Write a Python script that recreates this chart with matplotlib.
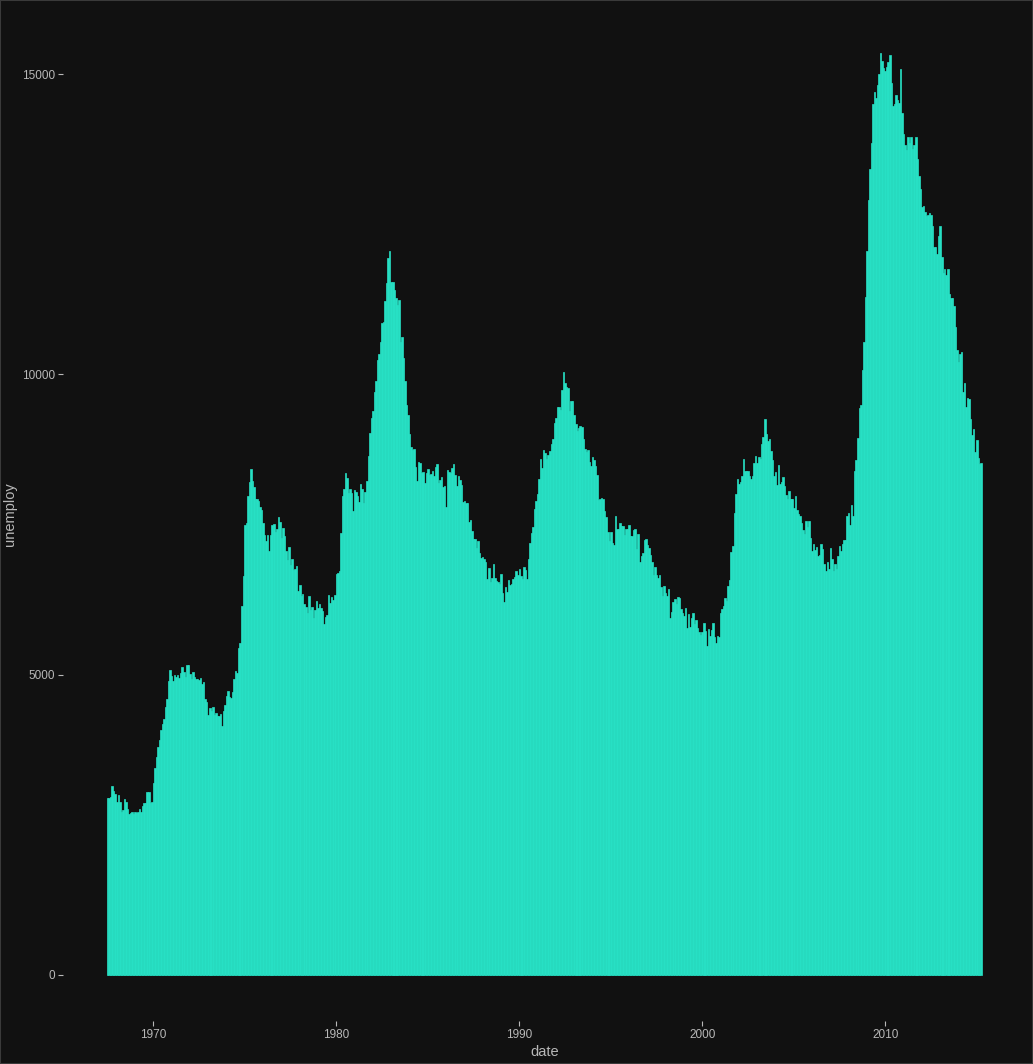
import pandas as pd
import matplotlib
matplotlib.use('Agg')
import matplotlib.pyplot as plt
import matplotlib.dates as mdates

plt.rcParams['font.family'] = ['Liberation Sans', 'DejaVu Sans']

# monthly unemployment (thousands), Jul 1967 - Apr 2015
unemploy = [
    2944, 2945, 2958, 3143, 3066, 3018,
    2878, 3001, 2877, 2709, 2740, 2938, 2883, 2768, 2686, 2689, 2715, 2685,
    2718, 2692, 2712, 2758, 2713, 2816, 2868, 2856, 3040, 3049, 2856, 2884,
    3201, 3453, 3635, 3797, 3919, 4071, 4175, 4256, 4456, 4591, 4898, 5076,
    4986, 4903, 4987, 4959, 4996, 4949, 5035, 5134, 5042, 4954, 5161, 5154,
    5019, 4928, 5038, 4959, 4922, 4923, 4913, 4939, 4849, 4875, 4602, 4543,
    4326, 4452, 4394, 4459, 4329, 4363, 4305, 4305, 4350, 4144, 4396, 4489,
    4644, 4731, 4634, 4618, 4705, 4927, 5063, 5022, 5437, 5523, 6140, 6636,
    7501, 7520, 7978, 8210, 8433, 8220, 8127, 7928, 7923, 7897, 7794, 7744,
    7534, 7326, 7230, 7330, 7053, 7322, 7490, 7518, 7380, 7430, 7620, 7545,
    7280, 7443, 7307, 7059, 6911, 7134, 6829, 6925, 6751, 6763, 6815, 6386,
    6489, 6318, 6337, 6180, 6127, 6028, 6309, 6080, 6125, 5947, 6077, 6228,
    6109, 6173, 6109, 6069, 5840, 5959, 5996, 6320, 6190, 6296, 6238, 6325,
    6683, 6702, 6729, 7358, 7984, 8098, 8363, 8281, 8021, 8088, 8023, 7718,
    8071, 8051, 7982, 7869, 8174, 8098, 7863, 8036, 8230, 8646, 9029, 9267,
    9397, 9705, 9895, 10244, 10335, 10538, 10849, 10881, 11217, 11529, 11938, 12051,
    11534, 11545, 11408, 11268, 11154, 11246, 10548, 10623, 10282, 9887, 9499, 9331,
    9008, 8791, 8746, 8762, 8456, 8226, 8537, 8519, 8367, 8381, 8198, 8358,
    8423, 8321, 8339, 8395, 8302, 8460, 8513, 8196, 8248, 8298, 8128, 8138,
    7795, 8402, 8383, 8364, 8439, 8508, 8319, 8135, 8310, 8243, 8159, 7883,
    7892, 7865, 7862, 7542, 7574, 7398, 7268, 7261, 7102, 7227, 7035, 6936,
    6953, 6929, 6876, 6601, 6779, 6546, 6605, 6843, 6604, 6568, 6537, 6518,
    6682, 6359, 6205, 6468, 6375, 6577, 6495, 6511, 6590, 6630, 6725, 6667,
    6752, 6651, 6598, 6797, 6742, 6590, 6922, 7188, 7368, 7459, 7764, 7901,
    8015, 8265, 8586, 8439, 8736, 8692, 8586, 8666, 8722, 8842, 8931, 9198,
    9283, 9454, 9460, 9415, 9744, 10040, 9850, 9787, 9781, 9398, 9565, 9557,
    9325, 9183, 9056, 9110, 9149, 9121, 8930, 8763, 8714, 8750, 8542, 8477,
    8630, 8583, 8470, 8331, 7915, 7927, 7946, 7933, 7734, 7632, 7375, 7230,
    7375, 7187, 7153, 7645, 7430, 7427, 7527, 7484, 7478, 7328, 7426, 7423,
    7491, 7313, 7318, 7415, 7423, 7095, 7337, 6882, 6979, 7031, 7236, 7253,
    7158, 7102, 7000, 6873, 6655, 6799, 6655, 6608, 6656, 6454, 6308, 6476,
    6368, 6306, 6422, 5941, 6047, 6212, 6259, 6179, 6300, 6280, 6100, 6032,
    5976, 6111, 5783, 6004, 5796, 5951, 6025, 5838, 5915, 5778, 5716, 5653,
    5708, 5858, 5733, 5481, 5758, 5651, 5747, 5853, 5625, 5534, 5639, 5634,
    6023, 6089, 6141, 6271, 6226, 6484, 6583, 7042, 7142, 7694, 8003, 8258,
    8182, 8215, 8304, 8599, 8399, 8393, 8390, 8304, 8251, 8307, 8520, 8640,
    8520, 8618, 8588, 8842, 8957, 9266, 9011, 8896, 8921, 8732, 8576, 8317,
    8370, 8167, 8491, 8170, 8212, 8286, 8136, 7990, 7927, 8061, 7932, 7934,
    7784, 7980, 7737, 7672, 7651, 7524, 7406, 7345, 7553, 7453, 7566, 7279,
    7064, 7184, 7072, 7120, 6980, 7001, 7175, 7091, 6847, 6727, 6872, 6762,
    7116, 6927, 6731, 6850, 6766, 6979, 7149, 7067, 7170, 7237, 7240, 7645,
    7685, 7497, 7822, 7637, 8395, 8575, 8937, 9438, 9494, 10074, 10538, 11286,
    12058, 12898, 13426, 13853, 14499, 14707, 14601, 14814, 15009, 15352, 15219, 15098,
    15046, 15113, 15202, 15325, 14849, 14474, 14512, 14648, 14579, 14516, 15081, 14348,
    14013, 13820, 13737, 13957, 13855, 13962, 13763, 13818, 13948, 13594, 13302, 13093,
    12797, 12813, 12713, 12646, 12660, 12692, 12656, 12471, 12115, 12124, 12005, 12298,
    12471, 11950, 11689, 11760, 11654, 11751, 11335, 11279, 11270, 11136, 10787, 10404,
    10202, 10349, 10380, 9702, 9859, 9460, 9608, 9599, 9262, 8990, 9090, 8717,
    8903, 8610, 8504, 8526,
]
dates = pd.date_range('1967-07-01', periods=len(unemploy), freq='MS')
y_ticks = [0, 5000, 10000, 15000]
x_tick_years = [1970, 1980, 1990, 2000, 2010]

bg = '#111111'
txt = '#b8b8b8'
fill = '#27e0c4'

fig = plt.figure(figsize=(10.33, 10.64), dpi=100, facecolor=bg)
ax = fig.add_axes([0.061, 0.0404, 0.932, 0.953])
ax.set_facecolor(bg)

ax.bar(dates, unemploy, width=31, color=fill, edgecolor=fill, linewidth=0.5, align='center')

x0 = mdates.date2num(dates[0]) - 15
x1 = mdates.date2num(dates[-1]) + 15
pad = (x1 - x0) * 0.05
ax.set_xlim(x0 - pad, x1 + pad)
ymax = max(unemploy)
ax.set_ylim(-ymax * 0.05, ymax * 1.05)

ax.set_xticks([mdates.date2num(pd.Timestamp('%d-01-01' % y)) for y in x_tick_years])
ax.set_xticklabels([str(y) for y in x_tick_years])
ax.set_yticks(y_ticks)
ax.set_yticklabels([str(v) for v in y_ticks])

for s in ax.spines.values():
    s.set_visible(False)
ax.tick_params(colors=txt, labelsize=8.5, length=3.5, width=0.8, pad=2)
ax.set_xlabel('date', color=txt, fontsize=10.5, labelpad=3)
ax.set_ylabel('unemploy', color=txt, fontsize=10.5, labelpad=4)

fig.patches.append(plt.Rectangle((0, 0), 1, 1, transform=fig.transFigure,
                                 fill=False, edgecolor='#3a3a3a', linewidth=1.5))

fig.savefig('out.png', dpi=100, facecolor=bg)
